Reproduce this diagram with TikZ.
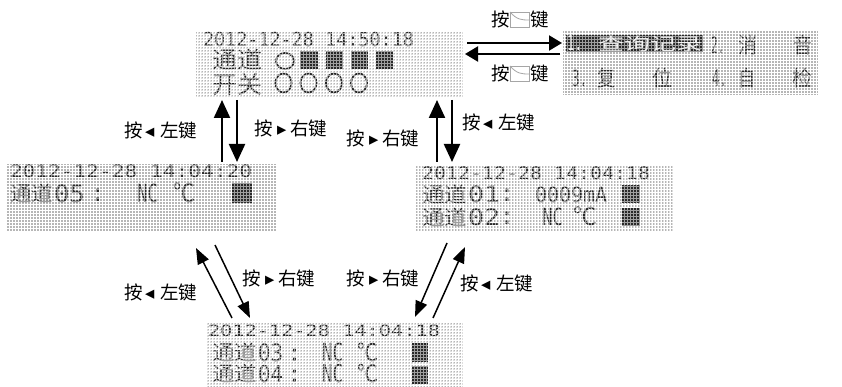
\documentclass[tikz,border=0pt]{standalone}
\usepackage{fontspec}
\usepackage{graphicx}
\usetikzlibrary{arrows.meta,calc}
\newfontfamily\cjk{Noto Sans CJK SC}
\newfontfamily\lcdmono{DejaVu Sans Mono}
\newfontfamily\symf{DejaVu Sans}
\definecolor{lcdbg}{RGB}{182,182,182}
\definecolor{lcdink}{RGB}{40,40,40}
\definecolor{lcdlight}{RGB}{232,232,232}
\newcommand\fitbox[3]{\resizebox*{#1pt}{#2pt}{#3}}
\newcommand\dg{\lcdmono\fontsize{18}{18}\selectfont}
\newcommand\cj{\cjk\fontsize{22}{22}\selectfont}
\begin{document}
\begin{tikzpicture}[x=1pt,y=-1pt,
  lcd/.style={fill=lcdbg, draw=none, inner sep=0, outer sep=0, anchor=north west,
    path picture={\draw[white, line width=0.7pt, step=3pt]
      (path picture bounding box.south west) grid (path picture bounding box.north east);}},
  pc/.style={inner sep=0, outer sep=0, anchor=south west, text=lcdink},
  pcl/.style={pc, text=lcdlight},
  colon/.style={inner sep=0, outer sep=0, anchor=base, text=lcdink, font=\lcdmono\fontsize{24}{24}\selectfont},
  lab/.style={font=\cjk\fontsize{18.5}{18.5}\selectfont, inner sep=0},
  varr/.style={line width=2.2pt, -{Triangle[length=18pt,width=16pt]}},
  darr/.style={line width=1.5pt, -{Triangle[length=16pt,width=12pt]}},
  harr/.style={line width=2pt, -{Triangle[length=13pt,width=15pt]}},
  sq/.style={fill=lcdink},
  ring/.style={draw=lcdink, line width=1.8pt}
]
\useasboundingbox (0,0) rectangle (842,387);
\fill[white] (0,0) rectangle (842,387);

% screens
\node[lcd, minimum width=267, minimum height=66] (top) at (196,31) {};
\node[lcd, minimum width=255, minimum height=64] (menu) at (563,31) {};
\node[lcd, minimum width=271, minimum height=68] (left) at (6,164) {};
\node[lcd, minimum width=258, minimum height=67] (right) at (415,165) {};
\node[lcd, minimum width=256, minimum height=64] (bot) at (207,323) {};

% top screen
\node[pc] (t1) at (203,47) {\dg\fitbox{211}{14.5}{2012-12-28 14:50:18}};
\node[pc] (t2) at (212,70) {\cj\fitbox{50}{21}{通道}};
\node[pc] (t3) at (212,96) {\cj\fitbox{50}{22}{开关}};
\draw[ring] (285,61) ellipse [x radius=9, y radius=8];
\fill[sq] (300,51) rectangle (318,69);
\fill[sq] (326,51) rectangle (343,69);
\fill[sq] (351,51) rectangle (368,69);
\fill[sq] (376,51) rectangle (393,69);
\draw[ring] (283.5,83) ellipse [x radius=8, y radius=9.5];
\draw[ring] (308.5,83) ellipse [x radius=8, y radius=9.5];
\draw[ring] (334,83) ellipse [x radius=8, y radius=9.5];
\draw[ring] (359,83) ellipse [x radius=8, y radius=9.5];

% menu screen
\fill[lcdink] (566,35) rectangle (703,52);
\node[pcl] (t4) at (567,51) {\dg\fitbox{15}{15}{1.}};
\node[pcl] (t5) at (598,51.5) {\cj\fitbox{104}{16}{查询记录}};
\node[pc] (t6) at (711,54) {\dg\fitbox{13}{17}{2.}};
\node[pc] (t7) at (738,55) {\cj\fitbox{19}{20}{消}};
\node[pc] (t8) at (793,55) {\cj\fitbox{19}{20}{音}};
\node[pc] (t9) at (572,87) {\dg\fitbox{15}{17}{3.}};
\node[pc] (t10) at (597,88) {\cj\fitbox{18}{20}{复}};
\node[pc] (t11) at (652,88) {\cj\fitbox{20}{20}{位}};
\node[pc] (t12) at (712,87) {\dg\fitbox{15}{17}{4.}};
\node[pc] (t13) at (738,88) {\cj\fitbox{17}{20}{自}};
\node[pc] (t14) at (792,88) {\cj\fitbox{20}{20}{检}};

% left screen
\node[pc] (t15) at (10,178) {\dg\fitbox{242}{13}{2012-12-28 14:04:20}};
\node[pc] (t16) at (10,203) {\cj\fitbox{43}{19}{通道}};
\node[pc] (t17) at (54,203) {\dg\fitbox{31}{18}{05}};
\node[colon] (t18) at (97.5,202) {:};
\node[pc] (t19) at (137,203) {\dg\fitbox{21}{19}{NC}};
\node[pc] (t20) at (173,203) {\cj\fitbox{22}{20}{℃}};
\fill[sq] (232,183) rectangle (252,203);

% right screen
\node[pc] (t21) at (422,180) {\dg\fitbox{228}{13}{2012-12-28 14:04:18}};
\node[pc] (t22) at (422,204) {\cj\fitbox{45}{19}{通道}};
\node[pc] (t23) at (468,203) {\dg\fitbox{32}{17}{01}};
\node[colon] (t24) at (507,202) {:};
\node[pc] (t25) at (535,203) {\dg\fitbox{72}{16}{0009mA}};
\fill[sq] (622,185) rectangle (640,203);
\node[pc] (t26) at (422,227) {\cj\fitbox{45}{19}{通道}};
\node[pc] (t27) at (468,226) {\dg\fitbox{32}{17}{02}};
\node[colon] (t28) at (507,225) {:};
\node[pc] (t29) at (542,226) {\dg\fitbox{21}{18}{NC}};
\node[pc] (t30) at (573,226) {\cj\fitbox{24}{19}{℃}};
\fill[sq] (622,208) rectangle (640,226);

% bottom screen
\node[pc] (t31) at (208,337) {\dg\fitbox{232}{12}{2012-12-28 14:04:18}};
\node[pc] (t32) at (212,362) {\cj\fitbox{45}{19}{通道}};
\node[pc] (t33) at (258,362) {\dg\fitbox{25}{18}{03}};
\node[colon] (t34) at (294.5,361) {:};
\node[pc] (t35) at (322,362) {\dg\fitbox{21}{19}{NC}};
\node[pc] (t36) at (357,362) {\cj\fitbox{21}{19}{℃}};
\fill[sq] (412,343) rectangle (428,362);
\node[pc] (t37) at (212,383) {\cj\fitbox{45}{18.5}{通道}};
\node[pc] (t38) at (258,383) {\dg\fitbox{25}{17.5}{04}};
\node[colon] (t39) at (294.5,382) {:};
\node[pc] (t40) at (322,383) {\dg\fitbox{21}{18.5}{NC}};
\node[pc] (t41) at (357,383) {\cj\fitbox{21}{18.5}{℃}};
\fill[sq] (412,366) rectangle (428,384);

% faint dot-matrix texture over the screens
\foreach \s in {top,menu,left,right,bot}{
  \begin{scope}
    \clip (\s.north west) rectangle (\s.south east);
    \draw[white, opacity=0.55, line width=0.4pt, step=3pt] (\s.north west) grid (\s.south east);
  \end{scope}
}

% key labels
\node[lab] (k1) at (520,19) {按\hspace{21pt}键};
\node[lab] (k2) at (520,73) {按\hspace{21pt}键};
\foreach \k in {k1,k2}{
  \draw[gray!70, line width=0.8pt] ($(\k)+(-10,-7)$) rectangle ($(\k)+(9,8)$);
  \draw[gray!70, line width=0.8pt] ($(\k)+(-10,-7)$) .. controls ($(\k)+(-3,1)$) and ($(\k)+(2,1)$) .. ($(\k)+(9,1)$);
}

% arrow labels
\node[lab] (l1) at (161,130) {按\hspace{2pt}{\symf ◂}\hspace{6pt}左键};
\node[lab] (l2) at (291,128) {按\hspace{4pt}{\symf ▸}\hspace{4pt}右键};
\node[lab] (l3) at (383,138) {按\hspace{4pt}{\symf ▸}\hspace{4pt}右键};
\node[lab] (l4) at (499,122) {按\hspace{2pt}{\symf ◂}\hspace{6pt}左键};
\node[lab] (l5) at (161,292) {按\hspace{2pt}{\symf ◂}\hspace{6pt}左键};
\node[lab] (l6) at (279,278) {按\hspace{4pt}{\symf ▸}\hspace{4pt}右键};
\node[lab] (l7) at (383,278) {按\hspace{4pt}{\symf ▸}\hspace{4pt}右键};
\node[lab] (l8) at (497,283) {按\hspace{2pt}{\symf ◂}\hspace{6pt}左键};

% horizontal arrows
\draw[harr] ($(top.north east)+(4,12)$) -- ($(menu.north west)+(-1,12)$);
\draw[harr] ($(menu.north west)+(-3,23)$) -- ($(top.north east)+(2,23)$);

% vertical arrows
\draw[varr] ($(left.north west)+(216,-2)$) -- ($(top.south west)+(26,3)$);
\draw[varr] ($(top.south west)+(41,3)$) -- ($(left.north west)+(231,-2)$);
\draw[varr] ($(right.north west)+(22,-3)$) -- ($(top.south west)+(241,3)$);
\draw[varr] ($(top.south west)+(256,3)$) -- ($(right.north west)+(37,-3)$);

% diagonal arrows
\draw[darr] ($(bot.north west)+(25,-5)$) -- ($(left.south west)+(190,16)$);
\draw[darr] ($(left.south west)+(209,13)$) -- ($(bot.north west)+(43,-5)$);
\draw[darr] ($(right.south west)+(32,11)$) -- ($(bot.north west)+(208,-6)$);
\draw[darr] ($(bot.north west)+(226,-5)$) -- ($(right.south west)+(50,15)$);
\end{tikzpicture}
\end{document}
